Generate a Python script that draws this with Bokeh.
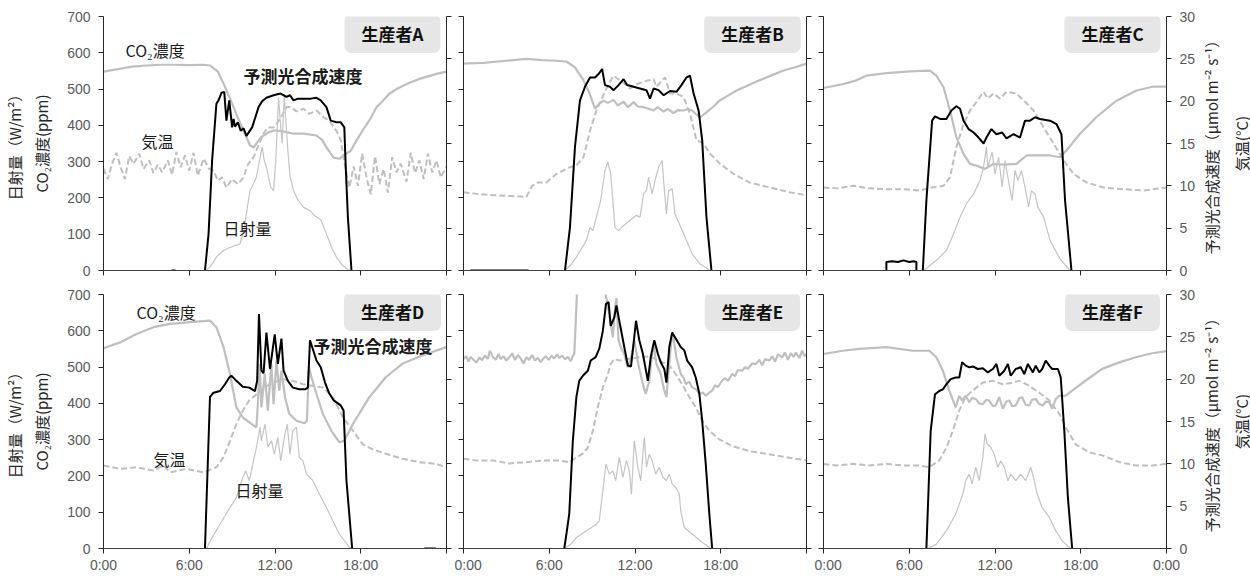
import math
import numpy as np
from bokeh.plotting import figure
from bokeh.models import Range1d, LinearAxis, FixedTicker, Label
from bokeh.layouts import column, row
from bokeh.embed import file_html
from bokeh.resources import INLINE

FONT = "Noto Sans CJK JP"
TICKFONT = "Liberation Sans"
GRAY = "#bfbfbf"
AXC = "#262626"
GAP = (None, None)

panel_names = ["生産者A", "生産者B", "生産者C", "生産者D", "生産者E", "生産者F"]
x_ticks = [0, 6, 12, 18, 24]
x_tick_labels = ["0:00", "6:00", "12:00", "18:00", "0:00"]
left_ticks = [0, 100, 200, 300, 400, 500, 600, 700]
right_ticks = [0, 5, 10, 15, 20, 25, 30]
left_label = "日射量（W/m²）\nCO₂濃度(ppm)"
right_label = "予測光合成速度（μmol m⁻² s⁻¹）\n気温(°C)"

# ---------------- Panel A ----------------
a_co2 = [(0, 548), (1, 555), (2, 562), (3, 565), (4, 567), (5, 567), (6, 566), (7, 567), (7.46, 565),
         (8.0, 548), (8.4, 515), (8.9, 470), (9.3, 430), (9.8, 385), (10.25, 345), (10.5, 339), (11.0, 366),
         (11.5, 380), (11.9, 386), (12.5, 384), (13.3, 377), (14.0, 377), (14.9, 372), (15.3, 360), (15.6, 339),
         (16.1, 311), (16.5, 308), (17.0, 322), (17.3, 330), (17.8, 365), (18.2, 390), (18.7, 420), (19.1, 450),
         (19.6, 470), (20.0, 487), (20.5, 500), (21.0, 510), (21.5, 519), (22.1, 528), (22.7, 535), (23.3, 542),
         (24.0, 548)]
a_tmp = [(0, 12.0), (0.3, 10.8), (0.6, 12.6), (0.9, 13.9), (1.2, 12.2), (1.5, 10.8), (1.8, 13.5), (2.1, 12.6),
         (2.5, 13.8), (2.8, 12.0), (3.2, 13.0), (3.5, 11.5), (3.8, 12.5), (4.1, 11.6), (4.5, 13.0), (4.8, 11.3),
         (5.1, 14.0), (5.4, 12.2), (5.7, 13.6), (6.0, 11.8), (6.3, 13.9), (6.6, 11.2), (7.0, 13.2), (7.4, 12.0),
         (7.7, 11.8), (8.0, 10.6), (8.3, 11.0), (8.6, 9.8), (9.0, 10.8), (9.4, 10.2), (9.8, 11.0), (10.1, 12.5),
         (10.5, 13.4), (10.8, 14.6), (11.2, 16.2), (11.5, 16.9), (11.9, 16.9), (12.4, 18.0), (12.8, 19.3),
         (13.1, 19.3), (13.5, 18.8), (14.0, 19.1), (14.4, 18.5), (14.9, 18.9), (15.4, 18.1), (15.8, 17.7),
         (16.3, 16.5), (16.6, 15.4), (16.8, 13.4), (17.0, 11.5), (17.2, 9.8), (17.5, 12.3), (17.8, 10.0),
         (18.1, 13.8), (18.4, 11.0), (18.7, 9.0), (19.0, 13.5), (19.3, 10.2), (19.6, 12.0), (19.9, 9.2),
         (20.2, 13.4), (20.5, 11.6), (20.8, 12.6), (21.2, 10.5), (21.5, 13.9), (21.8, 11.5), (22.1, 13.0),
         (22.4, 10.8), (22.7, 13.8), (23.0, 11.6), (23.3, 13.0), (23.6, 11.0), (24.0, 12.3)]
a_sol = [(0, 0), (7.2, 0), (7.5, 12), (7.9, 37), (8.4, 55), (8.9, 64), (9.3, 70), (9.55, 73), (9.8, 110),
         (10.0, 156), (10.25, 220), (10.5, 240), (10.7, 257), (10.9, 300), (11.1, 340), (11.25, 303), (11.4, 285),
         (11.55, 256), (11.7, 230), (11.9, 220), (12.05, 300), (12.25, 477), (12.4, 394), (12.5, 350),
         (12.65, 482), (12.8, 390), (12.9, 330), (13.05, 260), (13.3, 220), (13.6, 195), (14.0, 174),
         (14.45, 165), (14.8, 150), (15.2, 140), (15.6, 101), (16.0, 60), (16.3, 37), (16.7, 15), (17.0, 5),
         (17.3, 0), (24, 0)]
a_ps = [(4.76, 0), (5.04, 0), GAP, (7.1, 0), (7.35, 4.3), (7.6, 13.0), (7.9, 19.7), (8.05, 20.1), (8.26, 21.0),
        (8.45, 21.1), (8.6, 17.7), (8.8, 20.1), (9.0, 16.9), (9.1, 17.9), (9.2, 17.0), (9.4, 17.5), (9.6, 16.5),
        (9.8, 16.8), (10.0, 15.9), (10.4, 16.9), (10.85, 19.3), (11.1, 20.0), (11.4, 20.4), (11.9, 20.7),
        (12.4, 20.9), (12.8, 20.5), (13.05, 20.7), (13.3, 20.1), (13.6, 20.3), (14.0, 20.3), (14.5, 20.3),
        (14.9, 20.4), (15.2, 20.1), (15.6, 19.3), (15.9, 17.7), (16.3, 17.5), (16.6, 17.5), (16.85, 16.9),
        (16.95, 12.2), (17.1, 6.3), (17.35, 0)]

# ---------------- Panel B ----------------
b_co2 = [(0, 570), (1.4, 572), (3.0, 578), (4.4, 583), (5.5, 580), (6.5, 578), (7.2, 576), (7.8, 560),
         (8.4, 524), (8.8, 490), (9.2, 446), (9.5, 460), (9.8, 468), (10.1, 462), (10.5, 470), (10.8, 455),
         (11.2, 465), (11.5, 450), (11.9, 464), (12.2, 452), (12.6, 450), (13.0, 445), (13.3, 441), (13.6, 450),
         (14.0, 438), (14.3, 445), (14.7, 434), (15.0, 442), (15.4, 441), (15.7, 445), (16.0, 441), (16.3, 430),
         (16.55, 422), (17.0, 436), (17.5, 452), (17.9, 468), (18.5, 482), (19.1, 496), (19.9, 510), (20.7, 524),
         (21.5, 537), (22.4, 551), (23.2, 560), (24, 570)]
b_tmp = [(0, 9.25), (0.9, 9.05), (2.1, 8.9), (3.3, 8.8), (4.4, 8.7), (4.8, 10.0), (5.2, 10.4), (5.8, 10.4),
         (6.5, 11.4), (7.45, 12.2), (7.9, 12.4), (8.4, 13.4), (8.85, 16.5), (9.3, 18.9), (10.0, 21.5),
         (10.5, 23.0), (11.0, 22.4), (11.65, 21.5), (12.1, 22.0), (12.8, 22.4), (13.3, 22.6), (13.5, 21.7),
         (13.75, 22.2), (14.1, 22.8), (14.45, 20.9), (14.9, 20.9), (15.4, 20.5), (15.85, 18.5), (16.3, 15.4),
         (16.8, 15.0), (17.25, 13.8), (17.95, 12.6), (18.9, 11.4), (20.0, 10.4), (21.45, 9.8), (22.8, 9.25),
         (24, 8.9)]
b_sol = [(0, 0), (7.1, 0), (7.5, 15), (7.9, 37), (8.6, 83), (8.85, 119), (9.05, 110), (9.3, 147), (9.6, 193),
         (9.9, 276), (10.1, 299), (10.3, 266), (10.6, 119), (10.85, 110), (11.2, 124), (11.65, 138), (12.1, 152),
         (12.35, 147), (12.6, 211), (12.8, 220), (12.95, 257), (13.2, 211), (13.4, 248), (13.65, 285),
         (13.9, 303), (14.0, 248), (14.2, 156), (14.35, 220), (14.6, 225), (14.8, 156), (15.4, 101), (16.0, 46),
         (16.55, 18), (17.25, 0), (24, 0)]
b_ps = [(0.47, 0), (4.55, 0), GAP, (7.1, 0), (7.45, 5.1), (7.8, 14.6), (8.15, 20.1), (8.5, 21.7), (8.85, 22.8),
        (9.2, 22.8), (9.45, 23.2), (9.7, 23.8), (9.9, 21.9), (10.25, 21.7), (10.5, 21.3), (10.85, 21.9),
        (11.2, 22.6), (11.45, 21.9), (11.9, 21.7), (12.35, 21.5), (12.8, 21.3), (13.05, 20.3), (13.3, 21.5),
        (13.65, 21.3), (14.0, 20.7), (14.45, 21.2), (14.9, 21.1), (15.25, 21.9), (15.6, 22.8), (15.85, 23.0),
        (16.1, 20.9), (16.45, 18.9), (16.7, 15.4), (17.0, 6.3), (17.35, 0)]

# ---------------- Panel C ----------------
c_co2 = [(0, 503), (1.4, 514), (2.3, 524), (3.0, 537), (4.4, 544), (6.05, 549), (7.45, 551), (7.9, 537),
         (8.4, 505), (8.85, 441), (9.3, 367), (9.8, 321), (10.25, 294), (10.7, 289), (11.3, 280), (11.9, 294),
         (12.6, 292), (13.5, 294), (14.2, 317), (14.9, 317), (15.85, 317), (16.55, 312), (17.0, 331),
         (17.95, 377), (19.1, 423), (20.5, 468), (21.9, 496), (23.1, 507), (24, 507)]
c_tmp = [(0, 9.8), (1.0, 9.7), (2.1, 10.0), (3.2, 9.7), (4.4, 9.6), (5.6, 9.6), (6.75, 9.45), (7.6, 9.8),
         (8.4, 10.0), (8.85, 11.0), (9.3, 14.6), (9.8, 17.3), (10.25, 18.9), (10.7, 19.9), (11.2, 21.1),
         (11.5, 20.3), (11.9, 20.9), (12.35, 20.3), (12.8, 21.1), (13.5, 20.9), (14.0, 20.1), (14.7, 18.9),
         (15.4, 16.9), (16.1, 15.0), (16.8, 13.0), (17.5, 11.4), (18.4, 10.4), (19.6, 9.8), (21.0, 9.6),
         (22.4, 9.45), (24, 9.8)]
c_sol = [(0, 0), (7.0, 0), (7.9, 28), (8.6, 55), (9.1, 101), (9.55, 147), (10.0, 184), (10.5, 211),
         (10.95, 248), (11.2, 285), (11.4, 340), (11.5, 285), (11.8, 326), (12.0, 266), (12.25, 312), (12.5, 230),
         (12.7, 303), (12.9, 257), (13.2, 193), (13.4, 276), (13.6, 248), (13.85, 276), (14.1, 230), (14.35, 175),
         (14.55, 220), (14.8, 211), (15.0, 175), (15.4, 147), (15.85, 83), (16.55, 32), (17.25, 0), (24, 0)]
c_ps = [(4.4, 0), (4.4, 1.0), (4.8, 1.1), (5.2, 1.0), (5.6, 1.2), (6.0, 1.0), (6.3, 1.1), (6.5, 1.0), (6.5, 0),
        GAP, (6.95, 0), (7.2, 8.3), (7.6, 17.7), (7.8, 18.2), (8.15, 17.9), (8.6, 17.9), (8.95, 18.9),
        (9.3, 19.4), (9.55, 19.1), (9.8, 17.7), (10.15, 16.7), (10.5, 16.3), (10.85, 15.7), (11.2, 15.0),
        (11.4, 15.7), (11.75, 16.7), (12.1, 16.1), (12.5, 16.3), (12.8, 15.6), (13.3, 16.1), (13.75, 15.7),
        (14.1, 17.7), (14.45, 17.7), (14.8, 18.1), (15.15, 17.9), (15.85, 17.7), (16.3, 17.3), (16.65, 16.1),
        (16.9, 8.3), (17.35, 0)]

# ---------------- Panel D ----------------
d_co2 = [(0, 552), (1.16, 568), (2.3, 591), (3.5, 610), (4.65, 619), (6.05, 624), (7.45, 628), (7.9, 610),
         (8.4, 555), (8.85, 481), (9.3, 389), (9.75, 361), (10.3, 345), (10.7, 334), (10.8, 398), (10.93, 509),
         (11.05, 389), (11.28, 481), (11.5, 380), (11.74, 509), (11.9, 398), (12.1, 518), (12.3, 435),
         (12.45, 490), (12.7, 417), (13.0, 371), (13.5, 352), (14.07, 345), (14.23, 352), (14.38, 500),
         (14.55, 472), (14.9, 426), (15.35, 371), (15.93, 325), (16.5, 293), (16.85, 297), (17.45, 343),
         (18.6, 417), (19.75, 472), (20.9, 509), (22.3, 532), (24, 555)]
d_tmp = [(0, 9.8), (1.16, 9.4), (2.3, 9.6), (3.5, 9.2), (4.2, 9.8), (4.65, 9.0), (5.8, 9.4), (7.0, 9.0),
         (7.9, 9.6), (8.4, 10.8), (8.85, 12.7), (9.3, 14.7), (9.75, 16.3), (10.2, 17.5), (10.7, 18.2),
         (11.6, 19.4), (12.55, 20.0), (13.25, 19.8), (13.95, 19.4), (14.65, 19.2), (15.35, 19.0), (16.05, 17.9),
         (16.75, 15.5), (17.45, 13.9), (18.15, 12.3), (18.85, 11.7), (19.75, 11.2), (20.9, 10.6), (22.1, 10.2),
         (23.25, 10.0), (24, 9.6)]
d_sol = [(0, 0), (7.2, 0), (7.6, 30), (8.15, 67), (8.85, 113), (9.3, 141), (9.75, 196), (9.95, 214),
         (10.2, 187), (10.45, 233), (10.7, 279), (10.95, 334), (11.05, 297), (11.3, 343), (11.5, 279),
         (11.75, 297), (11.95, 260), (12.2, 306), (12.4, 242), (12.65, 306), (12.85, 343), (13.05, 260),
         (13.25, 325), (13.5, 334), (13.7, 251), (13.95, 242), (14.2, 205), (14.65, 187), (15.1, 150),
         (15.6, 113), (16.05, 76), (16.5, 40), (17.2, 3), (17.4, 0), (24, 0)]
d_ps = [(7.1, 0), (7.45, 17.9), (7.7, 18.4), (8.15, 18.6), (8.5, 19.4), (8.8, 20.2), (8.95, 20.4), (9.3, 19.8),
        (9.75, 19.1), (10.2, 19.0), (10.6, 18.6), (10.75, 19.8), (10.88, 27.7), (11.05, 21.0), (11.2, 20.7),
        (11.4, 25.5), (11.65, 21.2), (11.98, 25.3), (12.2, 21.8), (12.45, 24.8), (12.6, 21.0), (12.9, 19.8),
        (13.25, 19.0), (13.7, 18.8), (14.1, 18.8), (14.3, 19.0), (14.45, 24.6), (14.6, 23.8), (14.9, 22.2),
        (15.2, 21.4), (15.5, 19.6), (15.8, 18.3), (16.1, 17.5), (16.6, 16.9), (16.8, 16.3), (17.0, 8.0),
        (17.4, 0), GAP, (22.45, 0), (23.25, 0)]

# ---------------- Panel E ----------------
e_co2 = [(0, 523), (0.2, 530), (0.35, 515), (0.5, 528), (0.7, 520), (0.9, 512), (1.1, 526), (1.3, 519),
         (1.5, 532), (1.7, 522), (1.85, 545), (2.05, 528), (2.25, 520), (2.45, 536), (2.6, 522), (2.8, 530),
         (3.0, 518), (3.2, 527), (3.4, 538), (3.6, 520), (3.8, 533), (4.0, 524), (4.2, 510), (4.4, 527),
         (4.6, 520), (4.8, 533), (5.0, 518), (5.2, 525), (5.4, 514), (5.55, 522), (5.75, 530), (5.95, 520),
         (6.15, 531), (6.35, 524), (6.55, 535), (6.7, 525), (6.9, 532), (7.1, 521), (7.3, 528), (7.5, 516),
         (7.65, 530), (7.75, 536), (7.85, 620), (7.95, 720), (8.0, 780), (9.85, 780), (9.95, 700), (10.2, 647),
         (10.45, 582), (10.6, 660), (10.7, 690), (10.85, 573), (11.05, 550), (11.25, 536), (11.5, 499),
         (11.65, 518), (11.8, 540), (11.95, 573), (12.1, 540), (12.25, 505), (12.55, 453), (12.75, 426),
         (13.0, 463), (13.2, 540), (13.3, 564), (13.5, 508), (13.8, 481), (14.05, 435), (14.2, 417), (14.4, 508),
         (14.55, 575), (14.65, 591), (14.9, 527), (15.2, 481), (15.4, 470), (15.55, 453), (15.8, 460),
         (16.0, 444), (16.3, 438), (16.5, 426), (16.75, 430), (16.95, 421), (17.2, 430), (17.4, 435),
         (17.6, 450), (17.8, 445), (18.1, 463), (18.3, 470), (18.5, 462), (18.8, 481), (19.0, 475), (19.2, 492),
         (19.5, 490), (19.7, 500), (19.9, 495), (20.2, 510), (20.45, 508), (20.7, 520), (20.9, 505), (21.1, 522),
         (21.4, 518), (21.6, 530), (21.8, 515), (22.0, 535), (22.3, 527), (22.5, 540), (22.7, 520), (22.9, 538),
         (23.1, 528), (23.25, 540), (23.5, 525), (23.7, 545), (23.85, 530), (24, 536)]
e_tmp = [(0, 10.6), (0.9, 10.4), (2.05, 10.4), (3.2, 10.05), (4.4, 10.2), (5.55, 10.4), (6.7, 10.4),
         (7.4, 10.2), (7.75, 10.6), (8.35, 11.2), (8.7, 11.9), (9.05, 13.9), (9.4, 16.7), (9.75, 19.0),
         (10.1, 20.6), (10.3, 21.8), (10.55, 22.4), (10.9, 22.2), (11.6, 22.4), (12.3, 22.6), (13.0, 22.7),
         (13.7, 22.2), (14.4, 21.6), (14.85, 20.6), (15.3, 19.4), (15.8, 17.9), (16.25, 16.7), (16.7, 15.1),
         (17.2, 13.9), (17.9, 12.9), (18.8, 12.1), (20.0, 11.5), (21.15, 11.2), (22.55, 10.8), (24, 10.4)]
e_sol = [(0, 0), (7.05, 0), (7.5, 12), (7.9, 30), (8.6, 49), (9.3, 67), (9.5, 76), (9.75, 159), (9.97, 233),
         (10.2, 205), (10.45, 214), (10.65, 187), (10.9, 251), (11.15, 196), (11.4, 242), (11.6, 214),
         (11.75, 150), (11.95, 297), (12.2, 224), (12.4, 187), (12.65, 306), (12.8, 224), (13.0, 260),
         (13.2, 242), (13.45, 205), (13.7, 224), (13.95, 196), (14.2, 187), (14.4, 205), (14.6, 178),
         (14.85, 168), (15.1, 150), (15.2, 104), (15.45, 58), (16.0, 40), (16.7, 17), (17.3, 0), (24, 0)]
e_ps = [(7.05, 0), (7.2, 1.7), (7.4, 4.1), (7.65, 12.7), (7.9, 17.9), (8.1, 19.8), (8.35, 20.4), (8.7, 21.0),
        (8.9, 22.2), (9.25, 22.6), (9.5, 23.6), (9.75, 25.7), (9.97, 28.9), (10.15, 29.1), (10.3, 26.3),
        (10.55, 27.3), (10.7, 28.7), (10.9, 26.9), (11.25, 23.8), (11.5, 21.6), (11.72, 21.5), (11.9, 24.2),
        (12.07, 26.9), (12.3, 24.6), (12.55, 23.0), (12.9, 19.8), (13.1, 22.6), (13.35, 24.6), (13.6, 23.0),
        (13.8, 22.0), (14.05, 21.2), (14.2, 19.6), (14.4, 23.8), (14.6, 25.5), (14.85, 24.8), (15.2, 23.8),
        (15.45, 23.4), (15.65, 22.2), (16.0, 21.4), (16.25, 20.2), (16.5, 18.3), (16.7, 15.1), (16.95, 10.0),
        (17.2, 4.1), (17.4, 0)]

# ---------------- Panel F ----------------
f_co2 = [(0, 536), (1.35, 545), (2.5, 550), (4.4, 555), (6.25, 545), (7.4, 545), (7.9, 527), (8.35, 490),
         (8.8, 435), (9.25, 389), (9.5, 421), (9.7, 408), (9.95, 421), (10.2, 403), (10.4, 415), (10.65, 412),
         (10.9, 400), (11.15, 398), (11.4, 410), (11.6, 408), (11.85, 392), (12.05, 394), (12.3, 417),
         (12.55, 385), (12.8, 405), (13.0, 408), (13.2, 392), (13.45, 394), (13.7, 414), (13.9, 417),
         (14.15, 396), (14.4, 394), (14.6, 410), (14.85, 412), (15.1, 398), (15.35, 394), (15.55, 405),
         (15.8, 403), (16.0, 385), (16.25, 412), (16.5, 421), (16.95, 421), (17.4, 435), (18.35, 463),
         (19.5, 495), (20.7, 513), (21.85, 527), (23.0, 538), (24, 544)]
f_tmp = [(0, 9.97), (0.9, 9.8), (2.05, 10.0), (3.2, 9.8), (4.4, 10.0), (5.55, 9.8), (6.7, 9.8), (7.4, 9.6),
         (8.1, 10.4), (8.6, 11.9), (9.05, 13.9), (9.5, 16.3), (9.95, 17.9), (10.4, 18.6), (11.15, 19.6),
         (11.85, 19.8), (12.55, 19.4), (13.25, 19.6), (13.7, 19.8), (14.4, 19.2), (15.1, 18.4), (15.8, 17.5),
         (16.5, 15.9), (16.95, 14.3), (17.65, 12.3), (18.6, 11.35), (19.5, 11.0), (20.7, 10.2), (21.85, 9.8),
         (23.0, 9.8), (24, 10.0)]
f_sol = [(0, 0), (7.3, 0), (7.9, 12), (8.6, 49), (9.25, 95), (9.75, 150), (9.95, 187), (10.2, 205),
         (10.4, 178), (10.65, 224), (10.9, 187), (11.15, 251), (11.3, 316), (11.45, 288), (11.7, 279),
         (11.95, 260), (12.2, 224), (12.4, 242), (12.65, 224), (12.9, 187), (13.1, 205), (13.45, 187),
         (13.8, 205), (14.15, 187), (14.5, 224), (14.75, 187), (14.95, 150), (15.3, 113), (15.8, 86),
         (16.25, 49), (16.7, 21), (17.3, 0), (24, 0)]
f_ps = [(7.2, 0), (7.5, 13.9), (7.8, 18.2), (8.1, 18.6), (8.35, 18.8), (8.6, 19.4), (8.9, 20.0), (9.25, 20.2),
        (9.5, 20.2), (9.7, 22.0), (9.95, 21.6), (10.2, 21.4), (10.45, 21.5), (10.8, 21.2), (11.15, 21.3),
        (11.5, 20.8), (11.85, 21.2), (12.1, 21.8), (12.3, 20.4), (12.65, 21.0), (12.9, 21.8), (13.1, 20.4),
        (13.45, 21.2), (13.8, 21.4), (14.05, 20.6), (14.3, 21.8), (14.65, 20.8), (14.85, 21.6), (15.1, 20.8),
        (15.3, 21.2), (15.55, 22.2), (15.8, 21.6), (16.0, 21.2), (16.4, 21.2), (16.6, 20.2), (16.85, 13.9),
        (17.1, 6.0), (17.4, 0)]

# series annotation texts (panels A and D)
note_co2 = "CO₂濃度"
note_ps = "予測光合成速度"
note_tmp = "気温"
note_sol = "日射量"


def unzip(pairs):
    t = np.array([np.nan if a is None else a for a, b in pairs], dtype=float)
    v = np.array([np.nan if b is None else b for a, b in pairs], dtype=float)
    return t, v


def style_axis(ax, ticks, show, overrides=None):
    ax.ticker = FixedTicker(ticks=ticks)
    ax.minor_tick_line_color = None
    ax.major_tick_in = 0
    ax.major_tick_out = 5
    ax.axis_line_color = AXC
    ax.major_tick_line_color = AXC
    ax.major_label_text_font = TICKFONT
    if show:
        ax.major_label_text_color = "#595959"
        ax.major_label_text_font_size = "14px"
        ax.major_label_standoff = 8
    else:
        ax.major_label_text_color = None
        ax.major_label_text_font_size = "1px"
        ax.major_label_standoff = 0
    if overrides is not None:
        ax.major_label_overrides = overrides


def set_axis_label(ax, text, line_height, standoff):
    ax.axis_label = text
    ax.axis_label_text_font = FONT
    ax.axis_label_text_font_size = "15px"
    ax.axis_label_text_font_style = "normal"
    ax.axis_label_text_color = "#262626"
    ax.axis_label_text_line_height = line_height
    ax.axis_label_standoff = standoff


def make_panel(idx, co2, tmp, sol, ps):
    ci, ri = idx % 3, idx // 3
    p = figure(frame_width=343, frame_height=254,
               x_range=Range1d(0, 24), y_range=Range1d(0, 700),
               output_backend="svg", toolbar_location=None, title=None,
               min_border_left=[100, 9, 9][ci], min_border_right=[8, 8, 29][ci],
               min_border_top=[16, 8][ri], min_border_bottom=[16, 24][ri],
               background_fill_color="white", border_fill_color="white")
    p.outline_line_color = None
    p.xgrid.visible = False
    p.ygrid.visible = False
    p.extra_y_ranges = {"r": Range1d(0, 30)}
    ra = LinearAxis(y_range_name="r")
    p.add_layout(ra, "right")

    xa = p.below[0]
    la = p.left[0]
    if ri == 1:
        ov = {t: lab for t, lab in zip(x_ticks, x_tick_labels)}
        if ci < 2:
            ov[24] = ""
        style_axis(xa, x_ticks, True, ov)
        xa.major_label_standoff = 3
    else:
        style_axis(xa, x_ticks, False)
    xa.axis_line_color = "#404040"
    style_axis(la, left_ticks, ci == 0)
    style_axis(ra, right_ticks, ci == 2)
    if ci == 0:
        set_axis_label(la, left_label, 1.3, 12)

    t, v = unzip(tmp)
    p.line(t, v, y_range_name="r", line_color=GRAY, line_width=2, line_dash="6 3")
    t, v = unzip(co2)
    p.line(t, v, line_color=GRAY, line_width=2.2)
    t, v = unzip(sol)
    p.line(t, v, line_color="#c4c4c4", line_width=1.2)
    t, v = unzip(ps)
    p.line(t, v, y_range_name="r", line_color="black", line_width=2)

    p.add_layout(Label(x=20.22, y=653, text=panel_names[idx], text_align="center", text_baseline="middle",
                       text_font=FONT, text_font_size="17px", text_font_style="bold", text_color="#111111",
                       background_fill_color="#e6e6e6", background_fill_alpha=1.0,
                       border_radius=7, padding=(17, 7)))
    return p


def make_right_label(ri):
    # narrow strip that carries the right-hand axis title, reading bottom-to-top
    q = figure(frame_width=1, frame_height=254, x_range=Range1d(0, 1), y_range=Range1d(0, 30),
               output_backend="svg", toolbar_location=None, title=None, x_axis_location=None,
               min_border_left=40, min_border_right=0,
               min_border_top=[16, 8][ri], min_border_bottom=[16, 24][ri],
               background_fill_color="white", border_fill_color="white")
    q.outline_line_color = None
    q.xgrid.visible = False
    q.ygrid.visible = False
    ax = q.left[0]
    ax.ticker = FixedTicker(ticks=[])
    ax.minor_tick_line_color = None
    ax.major_tick_line_color = None
    ax.major_tick_in = 0
    ax.major_tick_out = 0
    ax.axis_line_color = None
    ax.major_label_text_color = None
    ax.major_label_text_font_size = "1px"
    ax.major_label_standoff = 0
    set_axis_label(ax, right_label, 1.4, 0)
    return q


def note(p, x, y, text, bold=False):
    p.add_layout(Label(x=x, y=y, text=text, text_align="left", text_baseline="middle",
                       text_font=FONT, text_font_size="17px" if bold else "16px",
                       text_font_style="bold" if bold else "normal", text_color="#1a1a1a"))


series = [(a_co2, a_tmp, a_sol, a_ps), (b_co2, b_tmp, b_sol, b_ps), (c_co2, c_tmp, c_sol, c_ps),
          (d_co2, d_tmp, d_sol, d_ps), (e_co2, e_tmp, e_sol, e_ps), (f_co2, f_tmp, f_sol, f_ps)]
figs = [make_panel(i, *s) for i, s in enumerate(series)]

pa, pd_ = figs[0], figs[3]
note(pa, 1.54, 609, note_co2)
note(pa, 9.8, 537, note_ps, bold=True)
note(pa, 2.66, 358, note_tmp)
note(pa, 8.4, 116, note_sol)
note(pd_, 2.31, 653, note_co2)
note(pd_, 14.69, 559, note_ps, bold=True)
note(pd_, 3.5, 248, note_tmp)
note(pd_, 9.24, 160, note_sol)

layout = column(row(*figs[:3], make_right_label(0)), row(*figs[3:], make_right_label(1)))
open("out.html", "w").write(file_html(layout, INLINE))
